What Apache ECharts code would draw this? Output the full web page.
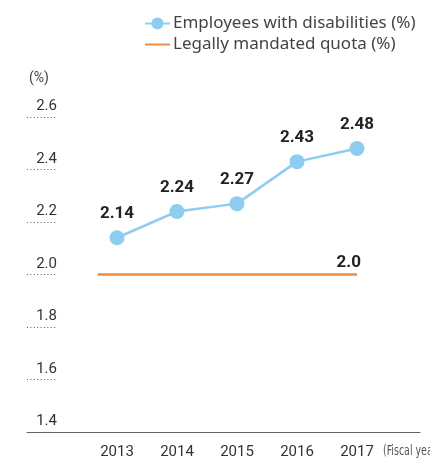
<!DOCTYPE html>
<html><head><meta charset="utf-8">
<script src="https://cdn.jsdelivr.net/npm/echarts@6/dist/echarts.min.js"></script>
<style>html,body{margin:0;padding:0;background:#fff}#c{width:430px;height:463px}</style>
</head><body><div id="c"></div>
<script>
const years = [2013, 2014, 2015, 2016, 2017];
const disabilityRate = [2.14, 2.24, 2.27, 2.43, 2.48];
const quotaYears = [2012.68, 2017];
const quotaRate = [2.0, 2.0];
const yTicks = [1.4, 1.6, 1.8, 2.0, 2.2, 2.4, 2.6];

const chart = echarts.init(document.getElementById('c'), null, {renderer: 'canvas'});
const yMin = yTicks[0], yMax = yTicks[yTicks.length - 1];
chart.setOption({
  animation: false,
  textStyle: {fontFamily: 'Roboto'},
  legend: {
    orient: 'vertical', left: 139, top: 10, itemGap: 4, itemWidth: 25, itemHeight: 15,
    textStyle: {fontFamily: 'Noto Sans', fontSize: 17, color: '#444', padding: [0, 0, 0, -2]},
    data: [
      {name: 'Employees with disabilities (%)'},
      {name: 'Legally mandated quota (%)', itemStyle: {opacity: 0}}
    ]
  },
  title: {text: '(%)', left: 24, top: 66, textStyle: {fontFamily: 'Roboto', fontWeight: 'normal', fontSize: 14, color: '#444'}},
  graphic: [{type: 'text', left: 383, top: 444, style: {text: '(Fiscal year)', font: '14px "DejaVu Sans Condensed", Roboto', fill: '#555'}, scaleX: 0.75}],
  grid: [
    {left: 27, right: 10, top: 117, bottom: 31},
    {left: 27, width: 30, top: 117, bottom: 31}
  ],
  xAxis: [
    {type: 'value', gridIndex: 0, min: 2011.5, max: 2018.05,
     axisLine: {show: true, lineStyle: {color: '#666', width: 1}}, axisTick: {show: false}, splitLine: {show: false},
     axisLabel: {customValues: years, fontSize: 15, color: '#333', margin: 13, formatter: v => String(v)}},
    {type: 'value', gridIndex: 1, show: false, min: 0, max: 1}
  ],
  yAxis: [
    {type: 'value', gridIndex: 0, min: yMin, max: yMax, interval: 0.2, show: false},
    {type: 'value', gridIndex: 1, min: yMin, max: yMax, interval: 0.2, position: 'right',
     axisLine: {show: false}, axisTick: {show: false},
     splitLine: {show: true, lineStyle: {type: [1, 2.4], color: '#555', width: 1}},
     axisLabel: {inside: true, margin: 0, verticalAlign: 'bottom', padding: [0, 0, 3, 0], fontSize: 15, color: '#333', formatter: v => v.toFixed(1)}}
  ],
  series: [
    {name: 'Legally mandated quota (%)', type: 'line', xAxisIndex: 0, yAxisIndex: 0,
     data: quotaYears.map((x, i) => [x, quotaRate[i]]), symbol: 'none', z: 2,
     lineStyle: {color: '#f08a3c', width: 2.5}, itemStyle: {color: '#f08a3c'},
     endLabel: {show: true, distance: 0, align: 'right', verticalAlign: 'middle', offset: [4, -12],
       fontSize: 17, fontWeight: 'bold', color: '#222', formatter: p => p.value[1].toFixed(1)}},
    {name: 'Employees with disabilities (%)', type: 'line', xAxisIndex: 0, yAxisIndex: 0,
     data: years.map((x, i) => [x, disabilityRate[i]]), symbol: 'circle', symbolSize: 15, z: 3,
     lineStyle: {color: '#8ecdf0', width: 2.5}, itemStyle: {color: '#8ecdf0'},
     label: {show: true, position: 'top', distance: 8, fontSize: 17, fontWeight: 'bold', color: '#222',
       formatter: p => p.value[1].toFixed(2)}}
  ]
});
</script></body></html>
